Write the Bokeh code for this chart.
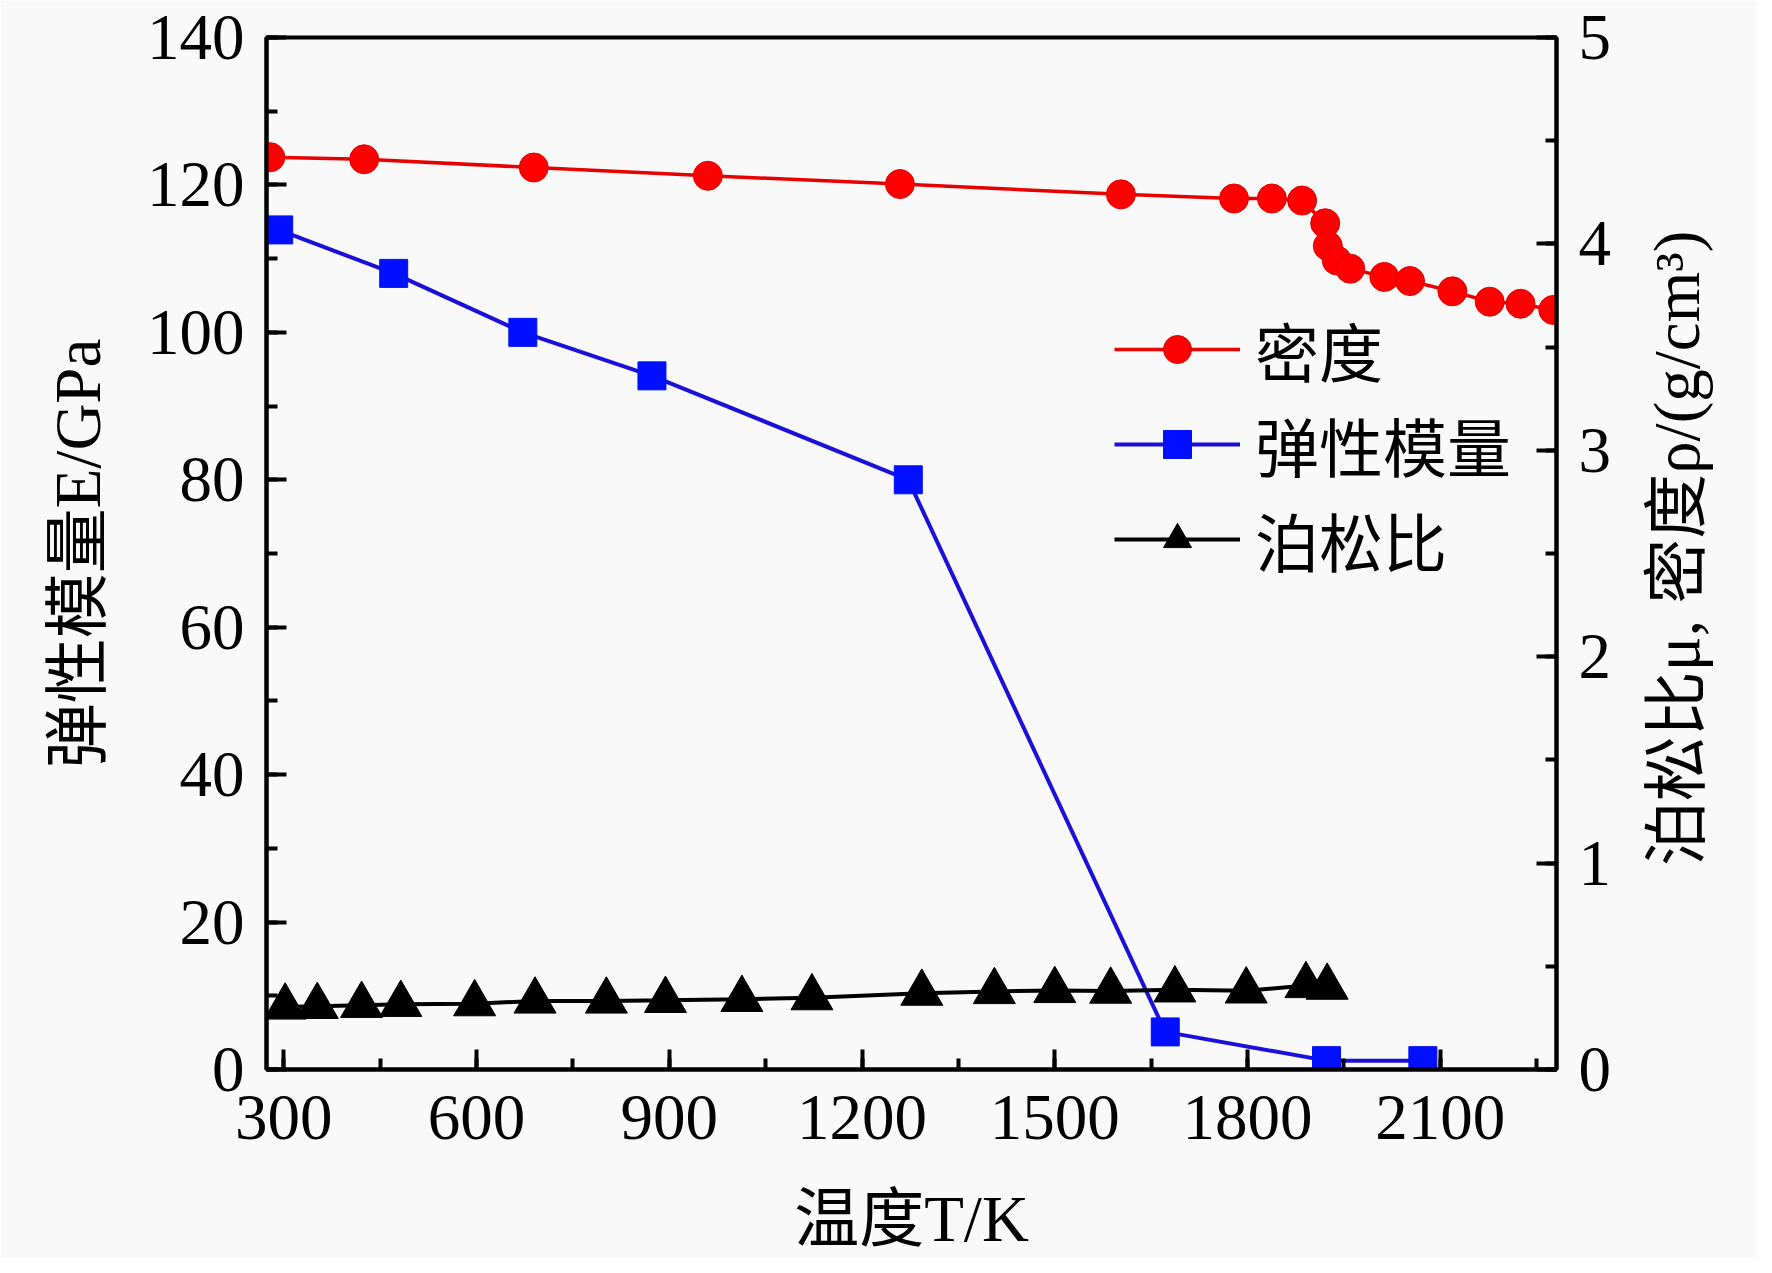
import math
from bokeh.plotting import figure
from bokeh.models import (Range1d, LinearAxis, SingleIntervalTicker, FixedTicker,
                          Legend, LegendItem)
from bokeh.embed import file_html
from bokeh.resources import INLINE

# ---------------- data ----------------
temp_density = [279, 425, 689, 960, 1259, 1603, 1779, 1838, 1885, 1921, 1925, 1939,
                1960, 2013, 2053, 2119, 2177, 2225, 2276]
density = [4.42, 4.41, 4.37, 4.33, 4.29, 4.24, 4.22, 4.22, 4.21, 4.10, 3.99, 3.92,
           3.88, 3.84, 3.82, 3.77, 3.72, 3.71, 3.68]

temp_modulus = [292, 471, 672, 873, 1272, 1672, 1923, 2073]
modulus = [113.9, 108.0, 100.0, 94.1, 80.0, 5.1, 1.2, 1.2]

temp_poisson = [302, 352, 421, 482, 597, 691, 802, 894, 1013, 1122, 1293, 1406,
                1500, 1587, 1687, 1798, 1891, 1924]
poisson = [0.303, 0.306, 0.311, 0.316, 0.319, 0.332, 0.332, 0.335, 0.340, 0.348,
           0.370, 0.378, 0.383, 0.380, 0.386, 0.381, 0.407, 0.399]

series_names = ["密度", "弹性模量", "泊松比"]
x_title = "温度T/K"
left_title = "弹性模量E/GPa"
right_title = "泊松比μ, 密度ρ/(g/cm³)"

XMIN, XMAX = 273, 2281
E_MIN, E_MAX = 0, 140
R_MIN, R_MAX = 0, 5
RIGHT_TITLE_START = 0.985   # where the (bottom-to-top) right title begins, on the right scale

# ---------------- layout ----------------
W, H = 1756, 1257
FL, FT, FW, FH = 266, 37, 1290, 1043
FONT = "'Liberation Serif', 'Noto Sans CJK SC'"
FS = 65

p = figure(width=W, height=H, x_range=Range1d(XMIN, XMAX), y_range=Range1d(E_MIN, E_MAX),
           output_backend="svg", toolbar_location=None,
           min_border_left=FL, min_border_top=FT,
           min_border_right=W - FL - FW, min_border_bottom=H - FT - FH)
p.extra_y_ranges = {"rho": Range1d(R_MIN, R_MAX)}
p.xgrid.visible = False
p.ygrid.visible = False
p.background_fill_color = "#f9f9f9"
p.border_fill_color = "#f9f9f9"
p.outline_line_color = "black"
p.outline_line_width = 4

right_axis = LinearAxis(y_range_name="rho")
p.add_layout(right_axis, "right")


def style_axis(ax, interval, standoff, title, title_standoff):
    ax.ticker = SingleIntervalTicker(interval=interval, num_minor_ticks=2)
    ax.axis_line_width = 4
    ax.axis_line_color = "black"
    ax.major_tick_line_width = 4
    ax.minor_tick_line_width = 4
    ax.major_tick_line_color = "black"
    ax.minor_tick_line_color = "black"
    ax.major_tick_in = 20
    ax.major_tick_out = 0
    ax.minor_tick_in = 11
    ax.minor_tick_out = 0
    ax.major_label_text_font = "Liberation Serif"
    ax.major_label_text_font_size = f"{FS}px"
    ax.major_label_text_color = "black"
    ax.major_label_standoff = standoff
    ax.axis_label = title
    ax.axis_label_text_font = FONT
    ax.axis_label_text_font_size = f"{FS}px"
    ax.axis_label_text_font_style = "normal"
    ax.axis_label_text_color = "black"
    ax.axis_label_standoff = title_standoff


style_axis(p.xaxis[0], 300, 26, x_title, 41)
style_axis(p.yaxis[0], 20, 22, left_title, 30)
style_axis(right_axis, 1, 22, None, 0)

# right-hand title, reading bottom-to-top like the reference: carried by a bare axis
title_axis = LinearAxis(y_range_name="rho",
                        ticker=FixedTicker(ticks=[RIGHT_TITLE_START], minor_ticks=[]),
                        major_label_overrides={RIGHT_TITLE_START: right_title},
                        major_label_orientation=math.pi / 2)
title_axis.axis_line_color = None
title_axis.major_tick_line_color = None
title_axis.minor_tick_line_color = None
title_axis.major_tick_in = 0
title_axis.major_tick_out = 0
title_axis.minor_tick_in = 0
title_axis.minor_tick_out = 0
title_axis.major_label_text_font = FONT
title_axis.major_label_text_font_size = f"{FS}px"
title_axis.major_label_text_color = "black"
title_axis.major_label_standoff = 63
p.add_layout(title_axis, "right")

# ---------------- series ----------------
rl = p.line(temp_density, density, y_range_name="rho", line_color="#e80000", line_width=3.5)
rp = p.scatter(temp_density, density, y_range_name="rho", marker="circle", size=29,
               fill_color="#ff0000", line_color="#e00000", line_width=1)
bl = p.line(temp_modulus, modulus, line_color="#1a10d8", line_width=4)
bp = p.scatter(temp_modulus, modulus, marker="square", size=28,
               fill_color="#0010ff", line_color="#0010ff", line_width=1)
kl = p.line(temp_poisson, poisson, y_range_name="rho", line_color="black", line_width=4)
kp = p.scatter(temp_poisson, poisson, y_range_name="rho", marker="triangle", size=42,
               fill_color="black", line_color="black", line_width=1)

legend = Legend(items=[LegendItem(label=series_names[0], renderers=[rl, rp]),
                       LegendItem(label=series_names[1], renderers=[bl, bp]),
                       LegendItem(label=series_names[2], renderers=[kl, kp])],
                location=(848, 484), orientation="vertical",
                glyph_width=126, glyph_height=70, label_height=70, label_standoff=15,
                spacing=3, padding=0, margin=0,
                border_line_alpha=0, background_fill_alpha=0,
                label_text_font=FONT, label_text_font_size="64px",
                label_text_color="black")
p.add_layout(legend)

open("out.html", "w").write(file_html(p, INLINE))
